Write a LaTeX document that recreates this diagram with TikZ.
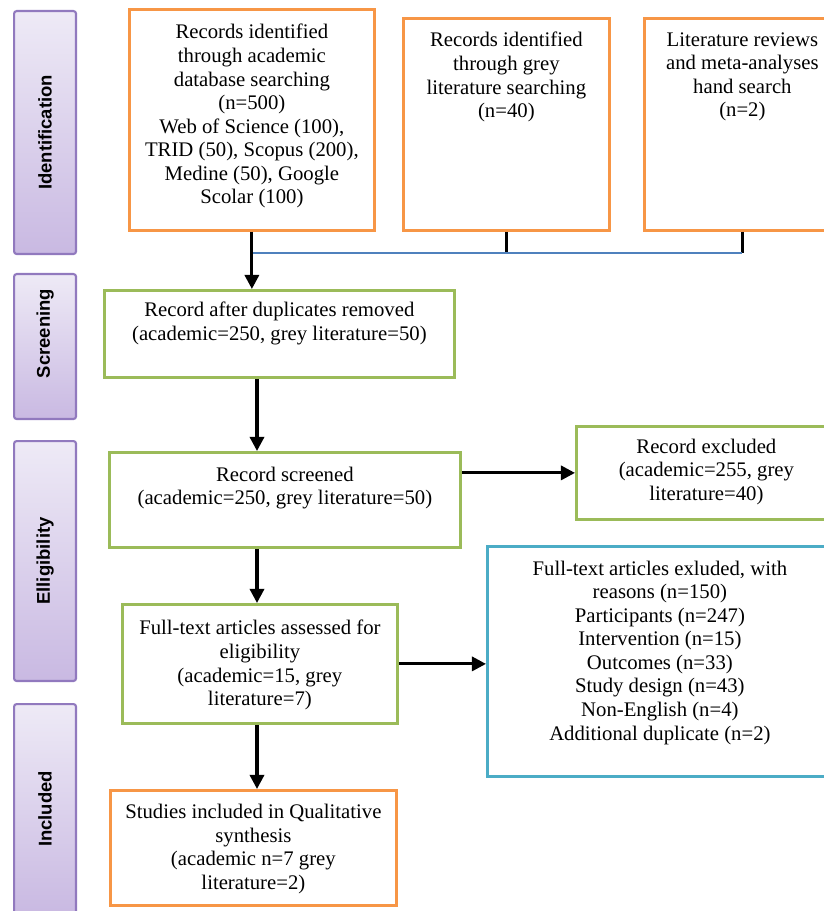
\documentclass[tikz,border=0pt]{standalone}
\usepackage{fontspec}
\setmainfont{Liberation Serif}
\newfontfamily\phasefont{Liberation Sans}
\usetikzlibrary{arrows.meta}
\usetikzlibrary{positioning}

\definecolor{boxorange}{HTML}{F79646}
\definecolor{boxgreen}{HTML}{9BBB59}
\definecolor{boxblue}{HTML}{4BACC6}
\definecolor{busblue}{HTML}{4F81BD}
\definecolor{phaseedge}{HTML}{9179BE}
\definecolor{phasetop}{HTML}{EEEAF6}
\definecolor{phasebottom}{HTML}{C9B9E2}

\begin{document}
\begin{tikzpicture}[x=0.02cm, y=-0.02cm,
flow/.style={
  line width=1.8pt,
  -{Triangle[length=8pt,width=8pt]}
},
stub/.style={
  line width=1.8pt
},
phase/.style={
  rectangle,
  rounded corners=1.5pt,
  draw=phaseedge,
  line width=1.2pt,
  top color=phasetop,
  bottom color=phasebottom,
  minimum width=1.24cm,
  anchor=north west
},
phaselabel/.style={
  rotate=90,
  font=\phasefont\bfseries\fontsize{10.5}{12}\selectfont
},
kasten/.style={
  rectangle,
  line width=1.6pt,
  fill=white,
  anchor=north west
},
orangebox/.style={kasten, draw=boxorange},
greenbox/.style={kasten, draw=boxgreen},
bluebox/.style={kasten, draw=boxblue},
boxtext/.style={
  align=center,
  inner sep=0pt,
  font=\fontsize{11.8}{13.4}\selectfont
}]
\useasboundingbox (0,0) rectangle (823,911);

% phases on the left
\node[phase, minimum height=4.86cm] (ident) at (13,10) {};
\node[phase, minimum height=2.9cm] (screen) at (13,273) {};
\node[phase, minimum height=4.8cm] (elig) at (13,440) {};
\node[phase, minimum height=4.2cm] (incl) at (13,703) {};
\node[phaselabel] (identLbl) at (ident.center) {Identification};
\node[phaselabel] (screenLbl) at ([yshift=0.26cm]screen.center) {Screening};
\node[phaselabel] (eligLbl) at (elig.center) {Elligibility};
\node[phaselabel] (inclLbl) at (incl.center) {Included};

% identification
\node[orangebox, minimum width=4.9cm, minimum height=4.42cm] (recAcad) at (128,8) {};
\node[boxtext, below=0.32cm of recAcad.north] (recAcadTxt) {Records identified\\through academic\\database searching\\(n=500)\\Web of Science (100),\\TRID (50), Scopus (200),\\Medine (50), Google\\Scolar (100)};
\node[orangebox, minimum width=4.12cm, minimum height=4.24cm] (recGrey) at (402,17) {};
\node[boxtext, below=0.3cm of recGrey.north] (recGreyTxt) {Records identified\\through grey\\literature searching\\(n=40)};
\node[orangebox, minimum width=3.92cm, minimum height=4.24cm] (recHand) at (643,17) {};
\node[boxtext, below=0.3cm of recHand.north] (recHandTxt) {Literature reviews\\and meta-analyses\\hand search\\(n=2)};

% screening
\node[greenbox, minimum width=7cm, minimum height=1.74cm] (dupRem) at (103,289) {};
\node[boxtext, below=0.26cm of dupRem.north] (dupRemTxt) {Record after duplicates removed\\(academic=250, grey literature=50)};

% eligibility
\node[greenbox, minimum width=7.02cm, minimum height=1.9cm] (screened) at (108,451) {};
\node[boxtext, below=0.31cm of screened.north] (screenedTxt) {Record screened\\(academic=250, grey literature=50)};
\node[greenbox, minimum width=5.2cm, minimum height=1.86cm] (excluded) at (575,425) {};
\node[boxtext, below=0.27cm of excluded.north] (excludedTxt) {Record excluded\\(academic=255, grey\\literature=40)};
\node[greenbox, minimum width=5.5cm, minimum height=2.38cm] (fullText) at (121,603) {};
\node[boxtext, below=0.34cm of fullText.north] (fullTextTxt) {Full-text articles assessed for\\eligibility\\(academic=15, grey\\literature=7)};
\node[bluebox, minimum width=6.9cm, minimum height=4.6cm] (fullExcl) at (486,545) {};
\node[boxtext, below=0.31cm of fullExcl.north] (fullExclTxt) {Full-text articles exluded, with\\reasons (n=150)\\Participants (n=247)\\Intervention (n=15)\\Outcomes (n=33)\\Study design (n=43)\\Non-English (n=4)\\Additional duplicate (n=2)};

% included
\node[orangebox, minimum width=5.72cm, minimum height=2.3cm] (studies) at (109,789) {};
\node[boxtext, below=0.3cm of studies.north] (studiesTxt) {Studies included in Qualitative\\synthesis\\(academic n=7 grey\\literature=2)};

% connectors
\coordinate (bus) at (0,253);
\coordinate (spine) at (257,0);
\draw[stub] (recGrey.south) -- (recGrey.south |- bus);
\draw[stub] (recHand.south) -- (recHand.south |- bus);
\draw[busblue, line width=0.9pt] (recAcad.south |- bus) -- (recHand.south |- bus);
\draw[flow] (recAcad.south) -- (recAcad.south |- dupRem.north);
\draw[flow] (dupRem.south -| spine) -- (screened.north -| spine);
\draw[flow] (screened.east |- excluded.west) -- (excluded.west);
\draw[flow] (screened.south -| spine) -- (fullText.north -| spine);
\draw[flow] (fullText.east) -- (fullText.east -| fullExcl.west);
\draw[flow] (fullText.south -| spine) -- (studies.north -| spine);

\end{tikzpicture}
\end{document}
